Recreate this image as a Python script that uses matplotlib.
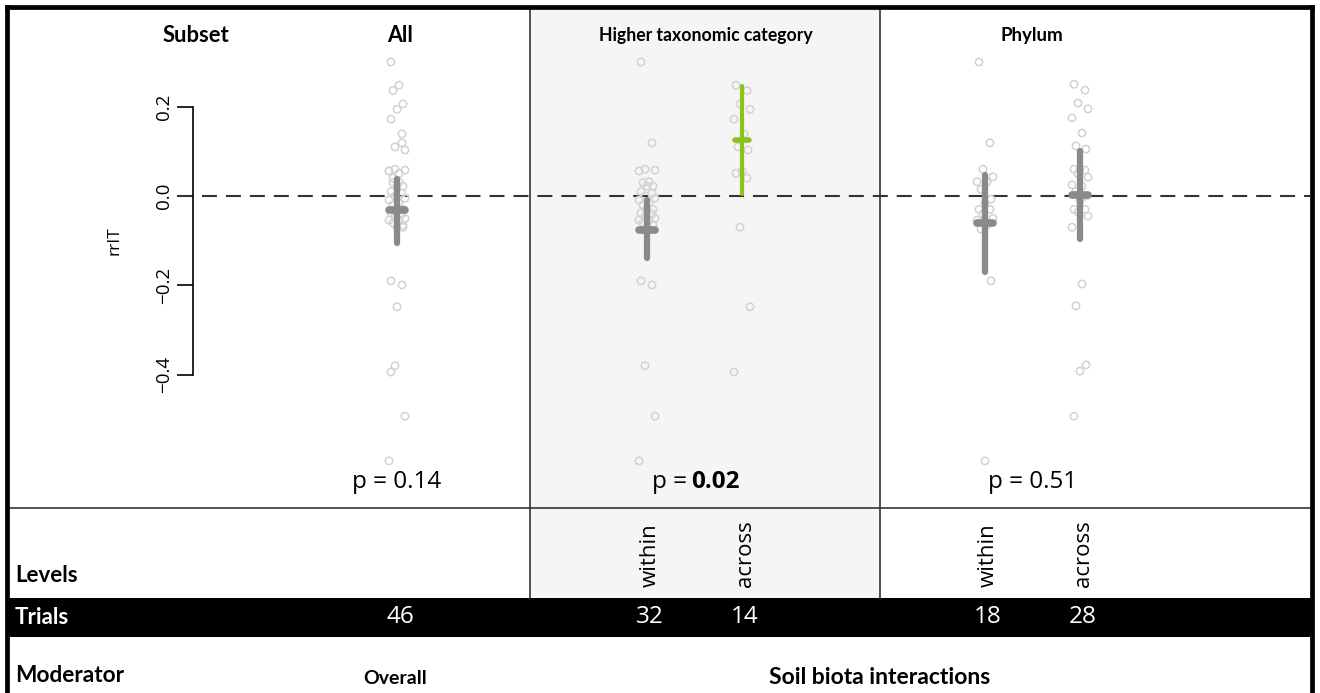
import matplotlib
matplotlib.use("Agg")
import matplotlib.pyplot as plt
from matplotlib.patches import Rectangle

# ---------------- data ----------------
subsets = ["All", "Higher taxonomic category", "Phylum"]
levels = ["", "within", "across", "within", "across"]
trials = [46, 32, 14, 18, 28]
moderators = ["Overall", "Soil biota interactions"]
p_values = ["0.14", "0.02", "0.51"]
p_bold = [False, True, False]

htc_within = [0.300, 0.119, 0.060, 0.058, 0.056, 0.032, 0.030, 0.022, 0.022, 0.010,
              0.006, 0.000, -0.005, -0.009, -0.015, -0.020, -0.030, -0.030, -0.038,
              -0.040, -0.045, -0.050, -0.054, -0.055, -0.060, -0.065, -0.070, -0.190,
              -0.199, -0.380, -0.493, -0.593]
htc_across = [0.248, 0.236, 0.206, 0.194, 0.172, 0.139, 0.110, 0.103, 0.056, 0.051,
              0.040, -0.070, -0.248, -0.394]
overall_vals = htc_within + htc_across
phylum_within = [0.300, 0.119, 0.060, 0.043, 0.032, 0.031, 0.015, -0.007, -0.015,
                 -0.030, -0.030, -0.040, -0.050, -0.054, -0.065, -0.074, -0.190, -0.593]
phylum_across = [0.250, 0.237, 0.208, 0.195, 0.175, 0.141, 0.112, 0.105, 0.060, 0.060,
                 0.058, 0.050, 0.042, 0.025, 0.022, 0.010, 0.000, -0.010, -0.030, -0.030,
                 -0.036, -0.045, -0.070, -0.197, -0.246, -0.378, -0.392, -0.493]
point_sets = [overall_vals, htc_within, htc_across, phylum_within, phylum_across]

est_mean = [-0.031, -0.076, 0.125, -0.060, 0.002]
est_lo = [-0.105, -0.139, 0.004, -0.170, -0.096]
est_hi = [0.038, -0.009, 0.246, 0.047, 0.100]
significant = [False, False, True, False, False]

yticks = [-0.4, -0.2, 0.0, 0.2]

# ---------------- layout / style ----------------
W, H = 1320, 693
col_x = [397, 647, 742, 985, 1080]
header_x = [400, 706, 1032]
header_size = [15.5, 12.7, 13.5]
p_x = [397, 694.5, 1032.5]
mod_x = [395, 880]
mod_size = [14, 16.5]
plot_top, plot_bot = 8, 508
px_per_unit = 446.7
zero_px = 196

reg_font = ["Open Sans", "DejaVu Sans"]
bold_fam = ["Lato", "DejaVu Sans"]

gray = "#8a8a8a"
green = "#8cc31a"
pt_edge = "#d2d2d2"
shade = "#f5f5f5"

fig = plt.figure(figsize=(W / 100, H / 100), dpi=100)
fig.patch.set_facecolor("white")

# background axes in pixel coordinates
bg = fig.add_axes([0, 0, 1, 1], zorder=0)
bg.set_xlim(0, W)
bg.set_ylim(H, 0)
bg.axis("off")
bg.add_patch(Rectangle((530, 8), 350, 590, facecolor=shade, edgecolor="none"))
bg.add_patch(Rectangle((7, 598), 1306, 39, facecolor="black", edgecolor="none"))
bg.plot([7, 1313], [508, 508], color="#333333", lw=1.2)
for xv in [530, 880]:
    bg.plot([xv, xv], [8, 598], color="#333333", lw=1.2)
# frame
bg.plot([7, 7], [7, H], color="black", lw=3.4, solid_capstyle="projecting")
bg.plot([1312, 1312], [7, H], color="black", lw=3.4, solid_capstyle="projecting")
bg.plot([7, 1312], [7, 7], color="black", lw=3.4, solid_capstyle="projecting")

# headers
bg.text(196, 35, "Subset", ha="center", va="center", fontsize=15.8, fontweight="bold", family=bold_fam)
for name, hx, hs in zip(subsets, header_x, header_size):
    bg.text(hx, 35, name, ha="center", va="center", fontsize=hs, fontweight="bold", family=bold_fam)

# p values
for pv, bold, px in zip(p_values, p_bold, p_x):
    if bold:
        bg.text(px - 7, 482, "p =", ha="right", va="center", fontsize=17.5, family=reg_font)
        bg.text(px - 3, 482, pv, ha="left", va="center", fontsize=17.5, fontweight="bold", family=reg_font)
    else:
        bg.text(px, 482, "p = " + pv, ha="center", va="center", fontsize=17.5, family=reg_font)

# row labels
bg.text(15, 575, "Levels", ha="left", va="center", fontsize=16, fontweight="bold", family=bold_fam)
bg.text(15, 617, "Trials", ha="left", va="center", fontsize=16, fontweight="bold", family=bold_fam, color="white")
bg.text(15, 676, "Moderator", ha="left", va="center", fontsize=16.3, fontweight="bold", family=bold_fam)
for mname, mx, ms in zip(moderators, mod_x, mod_size):
    bg.text(mx, 678, mname, ha="center", va="center", fontsize=ms, fontweight="bold", family=bold_fam)

for lv, n, cx in zip(levels, trials, col_x):
    if lv:
        bg.text(cx + 3, 587, lv, rotation=90, ha="center", va="bottom", fontsize=16, family=reg_font)
    bg.text(cx + 3, 617, str(n), ha="center", va="center", fontsize=17.5, family=reg_font, color="white")

# data axes
ax = fig.add_axes([0, (H - plot_bot) / H, 1, (plot_bot - plot_top) / H], zorder=1)
ax.set_facecolor("none")
ax.set_xlim(0, W)
ax.set_ylim((zero_px - plot_bot) / px_per_unit, (zero_px - plot_top) / px_per_unit)
for s in ["top", "right", "bottom"]:
    ax.spines[s].set_visible(False)
ax.spines["left"].set_position(("data", 193))
ax.spines["left"].set_bounds(-0.4, 0.2)
ax.spines["left"].set_linewidth(1.2)
ax.set_xticks([])
ax.set_yticks(yticks)
ax.set_yticklabels([f"{t:.1f}".replace("-", "\u2212") for t in yticks],
                   rotation=90, va="center", fontsize=13.5, family=reg_font)
ax.tick_params(axis="y", length=11.5, width=1.2, pad=3)
ax.text(115, -0.1, "rrIT", rotation=90, ha="center", va="center", fontsize=12.5, family=reg_font)

ax.axhline(0, xmin=178 / W, xmax=1310 / W, color="#333333", lw=1.5,
           linestyle=(0, (7.2, 4.3)), zorder=2)

jit = [-6, 5, -2, 8, -8, 2, -4, 6, 0]
for vals, cx in zip(point_sets, col_x):
    xs = [cx + jit[i % len(jit)] for i in range(len(vals))]
    ax.scatter(xs, vals, s=28, facecolors="none", edgecolors=pt_edge, linewidths=1.1, zorder=3)

for cx, m, lo, hi, sig in zip(col_x, est_mean, est_lo, est_hi, significant):
    c = green if sig else gray
    lw = 3.0 if sig else 4.5
    ax.plot([cx, cx], [lo, hi], color=c, lw=lw, solid_capstyle="round", zorder=4)
    half = 7 if sig else 8
    ax.plot([cx - half, cx + half], [m, m], color=c, lw=lw + 1.0, solid_capstyle="round", zorder=5)

fig.savefig("out.png", dpi=100, facecolor="white")
